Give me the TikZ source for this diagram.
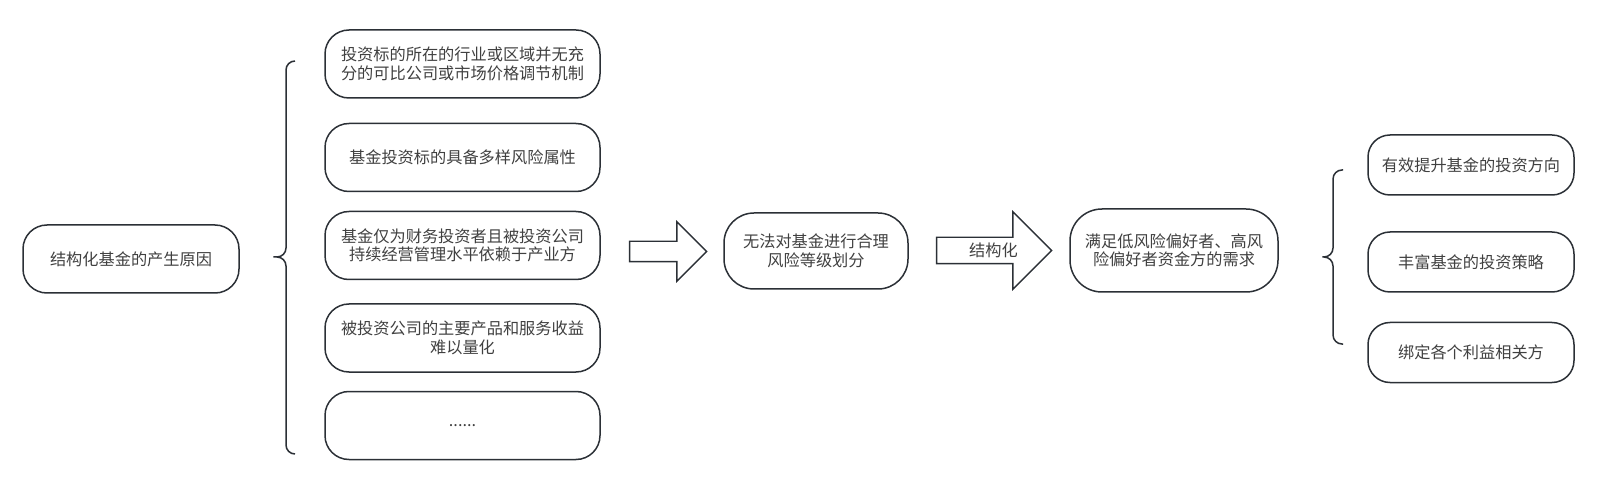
\documentclass[tikz,border=0pt]{standalone}
\usepackage{fontspec}
\setmainfont{Noto Sans CJK SC}
\usepackage{tikz}
\usetikzlibrary{shapes.arrows}
\definecolor{edgegray}{HTML}{2B3036}
\definecolor{textgray}{HTML}{404040}

\begin{document}
\begin{tikzpicture}[x=1pt,y=-1pt,
    box/.style={draw=edgegray,line width=1.5pt,rounded corners=24pt,text=textgray,
        align=center,font=\fontsize{16.2}{18.5}\selectfont,inner sep=0pt},
    bigarrow/.style={draw=edgegray,line width=1.4pt,single arrow,text=textgray,
        font=\fontsize{16.2}{18.5}\selectfont,inner xsep=0pt},
    brace/.style={draw=edgegray,line width=1.5pt,rounded corners=9pt}]
    \useasboundingbox (0,0) rectangle (1601,478);

    \node[box,minimum width=216,minimum height=68] (1) at (131,259) {结构化基金的产生原因};

    \node[box,minimum width=275,minimum height=68] (2) at (462.5,64) {投资标的所在的行业或区域并无充\\分的可比公司或市场价格调节机制};
    \node[box,minimum width=275,minimum height=68] (3) at (462.5,157.5) {基金投资标的具备多样风险属性};
    \node[box,minimum width=275,minimum height=68] (4) at (462.5,245.5) {基金仅为财务投资者且被投资公司\\持续经营管理水平依赖于产业方};
    \node[box,minimum width=275,minimum height=68] (5) at (462.5,338) {被投资公司的主要产品和服务收益\\难以量化};
    \node[box,minimum width=275,minimum height=68] (6) at (462.5,425.5) {......};

    \node[bigarrow,minimum height=77,inner ysep=9.5pt,single arrow head extend=19.5pt] (7) at (663,251.5) {};
    \node[box,rounded corners=30pt,minimum width=184,minimum height=76] (8) at (816,251) {无法对基金进行合理\\风险等级划分};
    \node[bigarrow,minimum height=115,inner ysep=5.5pt,text height=11.5pt,text depth=2.5pt,single arrow head extend=25.5pt,
        label={[text=textgray,font=\fontsize{16.2}{18.5}\selectfont,xshift=6pt,yshift=0.5pt]center:结构化}] (9) at (987.5,250.5) {\phantom{结构化}};
    \node[box,rounded corners=32pt,minimum width=208,minimum height=83] (10) at (1174,250.5) {满足低风险偏好者、高风\\险偏好者资金方的需求};

    \node[box,rounded corners=22pt,minimum width=206,minimum height=60] (11) at (1471,165) {有效提升基金的投资方向};
    \node[box,rounded corners=22pt,minimum width=206,minimum height=60] (12) at (1471,262) {丰富基金的投资策略};
    \node[box,rounded corners=22pt,minimum width=206,minimum height=60] (13) at (1471,352.5) {绑定各个利益相关方};

    % braces
    \coordinate (b1) at (268,257);
    \coordinate (b2) at (1317,257);
    \path[brace] (295,61) -- (286,61) -- (286,257) -- (b1) -- (286,257) -- (286,454) -- (295,454);
    \path[brace] (1343,170) -- (1333,170) -- (1333,257) -- (b2) -- (1333,257) -- (1333,344) -- (1343,344);
\end{tikzpicture}
\end{document}
